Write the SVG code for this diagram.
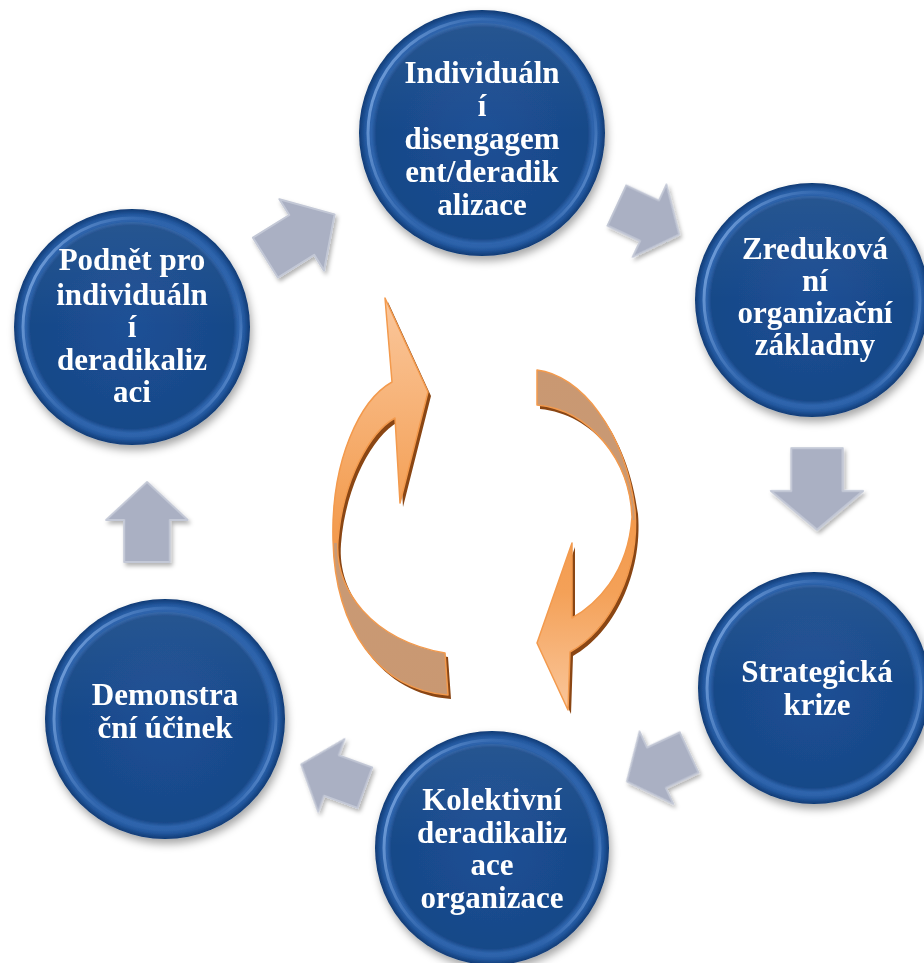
<svg xmlns="http://www.w3.org/2000/svg" width="924" height="963" viewBox="0 0 924 963">
<defs>
  <radialGradient id="disc" cx="50%" cy="50%" r="50%">
    <stop offset="0" stop-color="#1c5096"/>
    <stop offset="0.86" stop-color="#184888"/>
    <stop offset="0.9" stop-color="#2f65ad"/>
    <stop offset="0.95" stop-color="#2459a0"/>
    <stop offset="1" stop-color="#0f3a74"/>
  </radialGradient>
  <linearGradient id="rim" x1="0" y1="0.3" x2="1" y2="0.7">
    <stop offset="0" stop-color="#7aa6e0" stop-opacity="0.9"/>
    <stop offset="0.45" stop-color="#3c70b8" stop-opacity="0.2"/>
    <stop offset="0.85" stop-color="#3c70b8" stop-opacity="0.2"/>
    <stop offset="1" stop-color="#6f9ddb" stop-opacity="0.8"/>
  </linearGradient>
  <linearGradient id="sheen" x1="0" y1="0" x2="0" y2="1">
    <stop offset="0" stop-color="#ffffff" stop-opacity="0.07"/>
    <stop offset="0.5" stop-color="#ffffff" stop-opacity="0"/>
  </linearGradient>
  <filter id="dshadow" x="-20%" y="-20%" width="140%" height="150%">
    <feDropShadow dx="2" dy="5" stdDeviation="4" flood-color="#000" flood-opacity="0.35"/>
  </filter>
  <filter id="ashadow" x="-20%" y="-20%" width="150%" height="150%">
    <feDropShadow dx="2" dy="3" stdDeviation="2" flood-color="#000" flood-opacity="0.3"/>
  </filter>
  <linearGradient id="orL" gradientUnits="userSpaceOnUse" x1="0" y1="298" x2="0" y2="700">
    <stop offset="0" stop-color="#fac79c"/>
    <stop offset="0.5" stop-color="#f4a158"/>
    <stop offset="0.61" stop-color="#f39a4d"/>
    <stop offset="0.61" stop-color="#c99a75"/>
    <stop offset="1" stop-color="#c99872"/>
  </linearGradient>
  <linearGradient id="orR" gradientUnits="userSpaceOnUse" x1="0" y1="370" x2="0" y2="712">
    <stop offset="0" stop-color="#c99872"/>
    <stop offset="0.44" stop-color="#c99a75"/>
    <stop offset="0.44" stop-color="#f39a4d"/>
    <stop offset="0.65" stop-color="#f4a158"/>
    <stop offset="1" stop-color="#fac79c"/>
  </linearGradient>
  <polygon id="blk" points="-40,-24 2,-24 2,-43 40,0 2,43 2,24 -40,24"/>
  <style>
    .disc { fill: url(#disc); }
    .rim { fill: none; stroke: url(#rim); stroke-width: 3; }
    .lbl { font-family: "Liberation Serif", "Times New Roman", serif; font-weight: bold; font-size: 31px; fill: #ffffff; text-anchor: middle; }
    .blk { fill: #aab0c3; stroke: #c3c8d6; stroke-width: 2; stroke-linejoin: round; }
    .orng { stroke: #f39a4d; stroke-width: 1.5; stroke-linejoin: round; }
    .oshd { fill: #8a4614; }
  </style>
</defs>
<rect width="924" height="963" fill="#ffffff"/>

<g id="connectors">
  <g filter="url(#ashadow)">
    <use href="#blk" class="blk" transform="translate(300,236) rotate(-32) scale(1.02,0.98)"/>
    <use href="#blk" class="blk" transform="translate(648,220) rotate(25) scale(0.86,0.93)"/>
    <use href="#blk" class="blk" transform="translate(817,489) rotate(90) scale(1.02,1.07)"/>
    <use href="#blk" class="blk" transform="translate(658,767) rotate(155) scale(0.86,0.93)"/>
    <use href="#blk" class="blk" transform="translate(333,776) rotate(200) scale(0.85,0.9)"/>
    <use href="#blk" class="blk" transform="translate(147,522) rotate(-90) scale(1,0.95)"/>
  </g>
</g>

<g id="cycle-left">
  <path class="oshd" transform="translate(3,4)" d="M385,298 L428,392 L400,503 L395,418 C370,432 343,480 338,540 C334,590 372,640 445,653 L448,695 C380,690 335,630 333,540 C331,460 360,400 392,382 Z"/>
  <path class="orng" fill="url(#orL)" d="M385,298 L428,392 L400,503 L395,418 C370,432 343,480 338,540 C334,590 372,640 445,653 L448,695 C380,690 335,630 333,540 C331,460 360,400 392,382 Z"/>
</g>
<g id="cycle-right">
  <path class="oshd" transform="translate(3,4)" d="M537,370 C580,375 625,430 635,510 C640,570 610,630 570,652 L568,710 L537,643 L572,543 L572,618 C595,605 628,575 632,517 C630,460 590,410 537,405 Z"/>
  <path class="orng" fill="url(#orR)" d="M537,370 C580,375 625,430 635,510 C640,570 610,630 570,652 L568,710 L537,643 L572,543 L572,618 C595,605 628,575 632,517 C630,460 590,410 537,405 Z"/>
</g>

<g id="n1">
  <circle class="disc" cx="482" cy="133" r="123" filter="url(#dshadow)"/>
  <circle class="rim" cx="482" cy="133" r="114"/>
  <circle cx="482" cy="133" r="110" fill="url(#sheen)"/>
  <text class="lbl" x="482" y="83">Individuáln</text>
  <text class="lbl" x="482" y="116">í</text>
  <text class="lbl" x="482" y="149">disengagem</text>
  <text class="lbl" x="482" y="182">ent/deradik</text>
  <text class="lbl" x="482" y="215">alizace</text>
</g>
<g id="n2">
  <circle class="disc" cx="812" cy="300" r="117" filter="url(#dshadow)"/>
  <circle class="rim" cx="812" cy="300" r="108"/>
  <circle cx="812" cy="300" r="104" fill="url(#sheen)"/>
  <text class="lbl" x="815" y="259">Zreduková</text>
  <text class="lbl" x="815" y="291">ní</text>
  <text class="lbl" x="815" y="323">organizační</text>
  <text class="lbl" x="815" y="355">základny</text>
</g>
<g id="n3">
  <circle class="disc" cx="814" cy="688" r="116" filter="url(#dshadow)"/>
  <circle class="rim" cx="814" cy="688" r="107"/>
  <circle cx="814" cy="688" r="103" fill="url(#sheen)"/>
  <text class="lbl" x="817" y="682">Strategická</text>
  <text class="lbl" x="817" y="715">krize</text>
</g>
<g id="n4">
  <circle class="disc" cx="492" cy="848" r="117" filter="url(#dshadow)"/>
  <circle class="rim" cx="492" cy="848" r="108"/>
  <circle cx="492" cy="848" r="104" fill="url(#sheen)"/>
  <text class="lbl" x="492" y="810">Kolektivní</text>
  <text class="lbl" x="492" y="843">deradikaliz</text>
  <text class="lbl" x="492" y="875">ace</text>
  <text class="lbl" x="492" y="908">organizace</text>
</g>
<g id="n5">
  <circle class="disc" cx="165" cy="719" r="120" filter="url(#dshadow)"/>
  <circle class="rim" cx="165" cy="719" r="111"/>
  <circle cx="165" cy="719" r="107" fill="url(#sheen)"/>
  <text class="lbl" x="165" y="705">Demonstra</text>
  <text class="lbl" x="165" y="738">ční účinek</text>
</g>
<g id="n6">
  <circle class="disc" cx="132" cy="327" r="118" filter="url(#dshadow)"/>
  <circle class="rim" cx="132" cy="327" r="109"/>
  <circle cx="132" cy="327" r="105" fill="url(#sheen)"/>
  <text class="lbl" x="132" y="270">Podnět pro</text>
  <text class="lbl" x="132" y="305">individuáln</text>
  <text class="lbl" x="132" y="337">í</text>
  <text class="lbl" x="132" y="370">deradikaliz</text>
  <text class="lbl" x="132" y="402">aci</text>
</g>
</svg>
